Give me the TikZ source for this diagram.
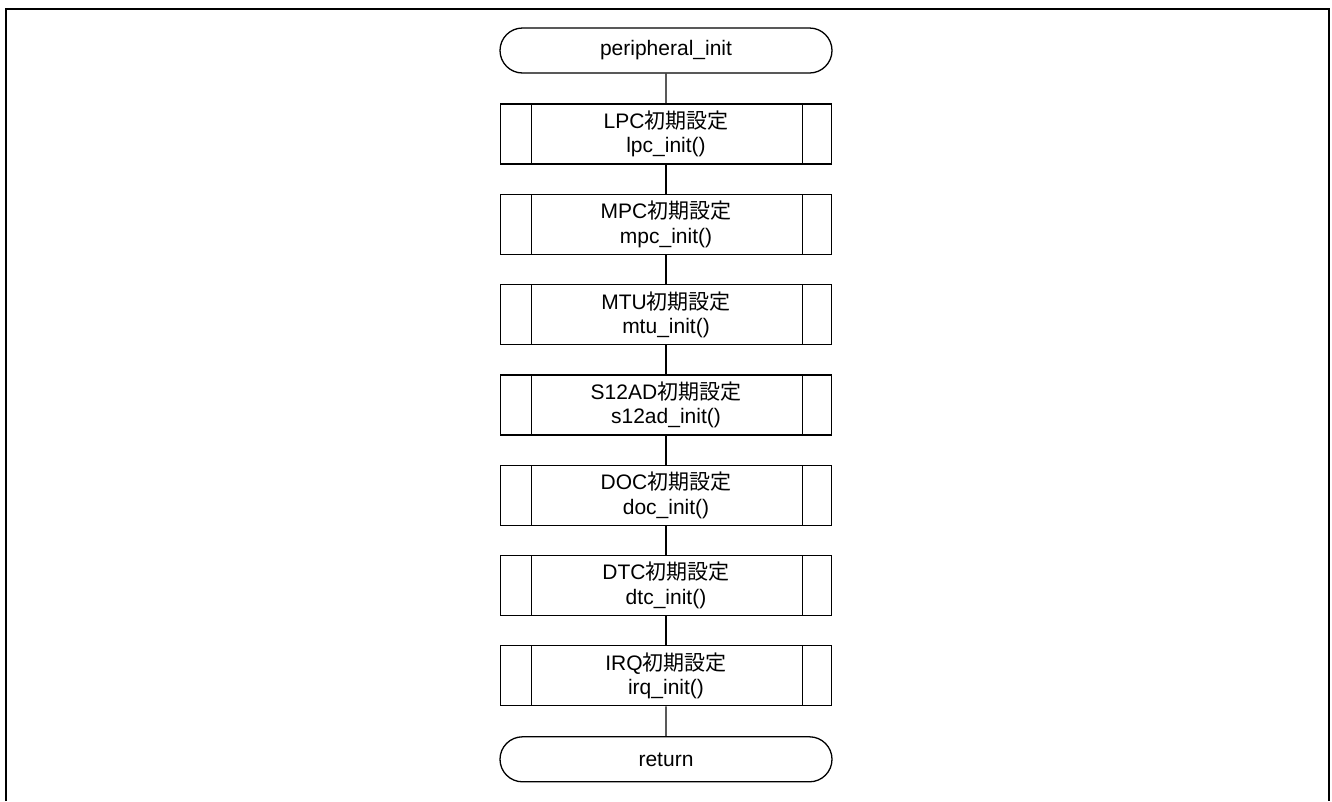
\documentclass[tikz,border=0pt]{standalone}
\usepackage{fontspec}
\setmainfont{Liberation Sans}
\newfontfamily\cjk{Noto Sans CJK JP}
\usetikzlibrary{shapes.misc, positioning, calc}

\tikzset{
  terminal/.style={rounded rectangle, draw, line width=1.3pt, minimum width=332pt,
    minimum height=45pt, inner sep=0pt, font=\fontsize{21}{24.5}\selectfont},
  subproc/.style={rectangle, draw, line width=1.3pt, minimum width=331pt,
    minimum height=60pt, inner sep=0pt, align=center,
    font=\fontsize{21}{24.5}\selectfont,
    path picture={
      \draw[line width=1.3pt]
        ($(path picture bounding box.north west)+(31pt,0)$) --
        ($(path picture bounding box.south west)+(31pt,0)$);
      \draw[line width=1.3pt]
        ($(path picture bounding box.north east)+(-29pt,0)$) --
        ($(path picture bounding box.south east)+(-29pt,0)$);
    }},
  link/.style={line width=1.3pt}
}

\begin{document}
\begin{tikzpicture}[x=1pt, y=1pt, node distance=29pt]
  \useasboundingbox (0,0) rectangle (1332,-801);
  % open frame
  \draw[line width=2.2pt] (6,-801) -- (6,-9) -- (1329,-9) -- (1329,-801);

  \node[terminal] (start) at (666,-50.5) {peripheral\_init};
  \node[subproc, below=29.7pt of start] (lpc) {LPC{\cjk 初期設定}\\lpc\_init()};
  \node[subproc, below=of lpc] (mpc) {MPC{\cjk 初期設定}\\mpc\_init()};
  \node[subproc, below=of mpc] (mtu) {MTU{\cjk 初期設定}\\mtu\_init()};
  \node[subproc, below=of mtu] (adc) {S12AD{\cjk 初期設定}\\s12ad\_init()};
  \node[subproc, below=of adc] (doc) {DOC{\cjk 初期設定}\\doc\_init()};
  \node[subproc, below=of doc] (dtc) {DTC{\cjk 初期設定}\\dtc\_init()};
  \node[subproc, below=of dtc] (irq) {IRQ{\cjk 初期設定}\\irq\_init()};
  \node[terminal, below=29.7pt of irq] (ret) {return};

  \foreach \a/\b in {start/lpc, lpc/mpc, mpc/mtu, mtu/adc, adc/doc, doc/dtc, dtc/irq, irq/ret}
    \draw[link] (\a) -- (\b);
\end{tikzpicture}
\end{document}
